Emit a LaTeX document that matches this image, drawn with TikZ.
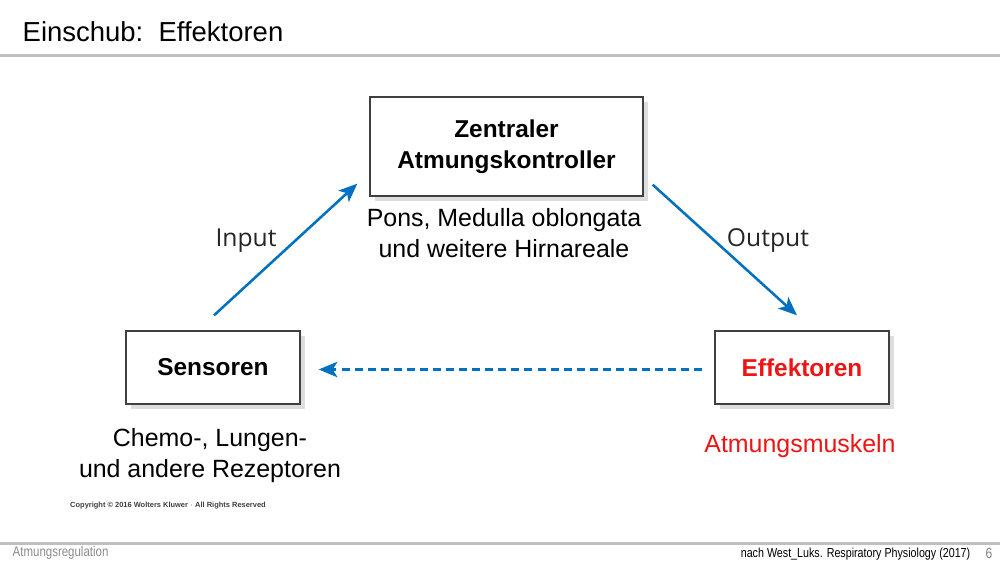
\documentclass[tikz,border=0pt]{standalone}
\usepackage{fontspec}
\setmainfont{Liberation Sans}
\newfontfamily\labelfont{Open Sans}
\newfontfamily\narrowfont[FakeStretch=0.82]{Liberation Sans}
\usetikzlibrary{arrows.meta,shadows,calc}
\definecolor{arrowblue}{RGB}{0,112,192}
\definecolor{rulegray}{RGB}{191,191,191}
\definecolor{boxred}{RGB}{238,20,20}
\def \lineWidth {1.9pt}
\tikzset{
  box/.style={draw=black!75, line width=1pt, fill=white, minimum width=#1, align=center,
    drop shadow={shadow xshift=3.5pt, shadow yshift=-3.5pt, opacity=0.22, fill=black!60}},
  boxtext/.style={font=\fontsize{18.3}{23.25}\selectfont\bfseries},
  plaintext/.style={font=\fontsize{18.7}{23.25}\selectfont, align=center},
  arrowlabel/.style={font=\labelfont\fontsize{18.5}{22}\selectfont, text=black!85},
  flow/.style={arrowblue, line width=\lineWidth, -{Stealth[length=14pt, width=11.5pt, inset=3.5pt]}}
}

\begin{document}
\begin{tikzpicture}[x=0.75pt, y=-0.75pt]
  \useasboundingbox (0,0) rectangle (1000,563);
  \fill[white] (0,0) rectangle (1000,563);
  \node[anchor=base west, font=\fontsize{20.6}{24}\selectfont] (title) at (18,42) {Einschub:\ \ Effektoren};
  \draw[rulegray, line width=2.25pt] (0,56) -- (1000,56);
  \draw[rulegray, line width=2.25pt] (0,543.5) -- (1000,543.5);

  \node[box=204.75pt, minimum height=74.25pt, boxtext] (zentral) at (506.5,146.5) {Zentraler\\Atmungskontroller};
  \node[box=130.5pt, minimum height=54.75pt, boxtext] (sens) at (213,367.5) {Sensoren};
  \node[box=130.5pt, minimum height=54.75pt, boxtext, text=boxred] (eff) at (802,367.5) {Effektoren};

  \draw[flow] ($(sens.north)+(1,-15)$) -- ($(zentral.south west)+(-12,-13)$);
  \draw[flow] ($(zentral.south east)+(9,-12)$) -- ($(eff.north)+(-5,-15)$);
  \draw[flow, dash pattern=on 6pt off 3.8pt] ($(eff.west)+(-12,2)$) -- ($(sens.east)+(18,2)$);

  \node[arrowlabel] (input) at (246,241) {Input};
  \node[arrowlabel] (output) at (768,241) {Output};
  \node[plaintext] (pons) at (504,233) {Pons, Medulla oblongata\\und weitere Hirnareale};
  \node[plaintext] (rezept) at (210,456) {Chemo-, Lungen-\\und andere Rezeptoren};
  \node[plaintext, text=boxred] (muskeln) at (800,446) {Atmungsmuskeln};

  \node[font=\fontsize{5.6}{6}\selectfont\bfseries, text=black!75] (copy) at (168,506) {Copyright \textcopyright\ 2016 Wolters Kluwer $\cdot$ All Rights Reserved};
  \node[anchor=base west, font=\narrowfont\fontsize{10.5}{12}\selectfont, text=black!45] (foot) at (8,556) {Atmungsregulation};
  \node[anchor=base east, font=\narrowfont\fontsize{9.8}{12}\selectfont] (quelle) at (975,557) {nach West\_Luks. Respiratory Physiology (2017)};
  \node[anchor=base west, font=\narrowfont\fontsize{11}{12}\selectfont, text=black!50] (page) at (981,558) {6};
\end{tikzpicture}
\end{document}
